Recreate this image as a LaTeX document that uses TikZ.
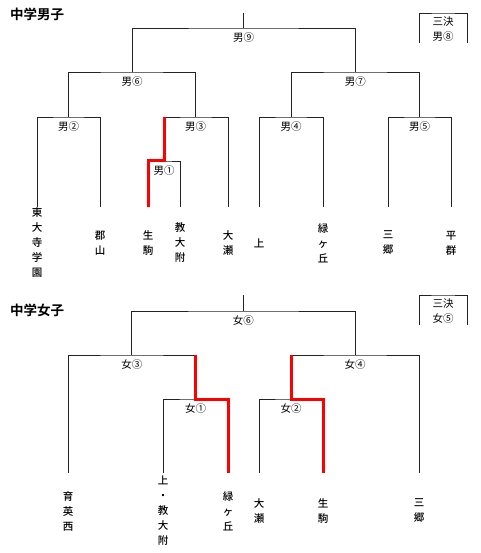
\documentclass[tikz,border=0pt]{standalone}
\usepackage{fontspec}
\setmainfont{Noto Sans CJK JP}[BoldFont={Noto Sans CJK JP Bold}]
\newfontfamily\teamfont{Noto Sans CJK JP Medium}
\definecolor{redcol}{HTML}{FF0000}
\definecolor{linecol}{HTML}{222222}
\usetikzlibrary{positioning}

\tikzset{
  bline/.style={linecol, line width=0.9pt},
  win/.style={redcol, line width=3pt},
  lbl/.style={font=\fontsize{10.5}{12}\selectfont, inner sep=0pt},
  team/.style={font=\fontsize{10.5}{15}\selectfont\teamfont, inner sep=0pt, align=center},
  ttl/.style={font=\fontsize{13.5}{16}\selectfont\bfseries, inner sep=0pt, anchor=west},
}

\begin{document}
\begin{tikzpicture}[x=1pt, y=-1pt]
\useasboundingbox (0,0) rectangle (480,553);

% === BOYS BRACKET ===
\node[ttl] (bttl) at (10,14) {中学男子};

% leg ends
\coordinate (b1) at (37,207);
\coordinate (b2) at (100,207);
\coordinate (b3) at (148,207);
\coordinate (b4) at (180,207);
\coordinate (b5) at (228,207);
\coordinate (b6) at (259,207);
\coordinate (b7) at (323,207);
\coordinate (b8) at (388,207);
\coordinate (b9) at (451,207);

% match points
\coordinate (m1) at (164,161);
\coordinate (m2) at (68.5,117);
\coordinate (m3) at (195.5,117);
\coordinate (m4) at (291,117);
\coordinate (m5) at (419.5,117);
\coordinate (m6) at (132,72);
\coordinate (m7) at (355.25,72);
\coordinate (m9) at (243.6,28);
\coordinate (m9top) at (243.6,13);

\draw[bline] (b1) |- (m2) -| (b2);
\draw[bline] (b3) |- (m1) -| (b4);
\draw[bline] (m1) |- (m3) -| (b5);
\draw[bline] (b6) |- (m4) -| (b7);
\draw[bline] (b8) |- (m5) -| (b9);
\draw[bline] (m2) |- (m6) -| (m3);
\draw[bline] (m4) |- (m7) -| (m5);
\draw[bline] (m6) |- (m9) -| (m7);
\draw[bline] (m9top) -- (m9);

% winner path
\draw[win] (b3) |- (m1) -- (m1 |- m3);

\node[lbl, below=4pt of m1] (n1) {男①};
\node[lbl, below=4pt of m2] (n2) {男②};
\node[lbl, below=4pt of m3] (n3) {男③};
\node[lbl, below=4pt of m4] (n4) {男④};
\node[lbl, below=4pt of m5] (n5) {男⑤};
\node[lbl, below=4pt of m6] (n6) {男⑥};
\node[lbl, below=4pt of m7] (n7) {男⑦};
\node[lbl, below=4pt of m9] (n9) {男⑨};

% third place
\coordinate (b3rdL) at (419,43);
\coordinate (b3rdR) at (467,43);
\coordinate (b3rdT) at (443,13);
\draw[bline] (b3rdL) |- (b3rdT) -| (b3rdR);
\node[lbl] (n8a) at (443,22) {三決};
\node[lbl] (n8b) at (443,37) {男⑧};

% teams
\node[team] (s1) at (37,243) {東\\大\\寺\\学\\園};
\node[team] (s2) at (100,243) {郡\\山};
\node[team] (s3) at (148,243) {生\\駒};
\node[team] (s4) at (180,243) {教\\大\\附};
\node[team] (s5) at (228,243) {大\\瀬};
\node[team] (s6) at (259,243) {上};
\node[team] (s7) at (323,243) {緑\\ヶ\\丘};
\node[team] (s8) at (388,243) {三\\郷};
\node[team] (s9) at (451,243) {平\\群};

% === GIRLS BRACKET ===
\node[ttl] (gttl) at (10,310) {中学女子};

% leg ends
\coordinate (g1) at (68,473);
\coordinate (g2) at (163,473);
\coordinate (g3) at (228,473);
\coordinate (g4) at (259,473);
\coordinate (g5) at (323,473);
\coordinate (g6) at (419,473);

% match points
\coordinate (w1) at (195.5,399);
\coordinate (w2) at (291,399);
\coordinate (w3) at (131.75,355);
\coordinate (w4) at (355,355);
\coordinate (w6) at (243.4,311);
\coordinate (w6top) at (243.4,295);

\draw[bline] (g2) |- (w1) -| (g3);
\draw[bline] (g4) |- (w2) -| (g5);
\draw[bline] (g1) |- (w3) -| (w1);
\draw[bline] (w2) |- (w4) -| (g6);
\draw[bline] (w3) |- (w6) -| (w4);
\draw[bline] (w6top) -- (w6);

% winner paths
\draw[win] (g3) |- (w1) -- (w1 |- w3);
\draw[win] (g5) |- (w2) -- (w2 |- w4);

\node[lbl, below=4pt of w1] (k1) {女①};
\node[lbl, below=4pt of w2] (k2) {女②};
\node[lbl, below=4pt of w3] (k3) {女③};
\node[lbl, below=4pt of w4] (k4) {女④};
\node[lbl, below=4pt of w6] (k6) {女⑥};

% third place
\coordinate (g3rdL) at (419,325);
\coordinate (g3rdR) at (467,325);
\coordinate (g3rdT) at (443,295);
\draw[bline] (g3rdL) |- (g3rdT) -| (g3rdR);
\node[lbl] (k5a) at (443,304) {三決};
\node[lbl] (k5b) at (443,319) {女⑤};

% teams
\node[team] (r1) at (68,511) {育\\英\\西};
\node[team] (r2) at (163,511) {上\\・\\教\\大\\附};
\node[team] (r3) at (228,511) {緑\\ヶ\\丘};
\node[team] (r4) at (259,511) {大\\瀬};
\node[team] (r5) at (323,511) {生\\駒};
\node[team] (r6) at (419,511) {三\\郷};

\end{tikzpicture}
\end{document}
